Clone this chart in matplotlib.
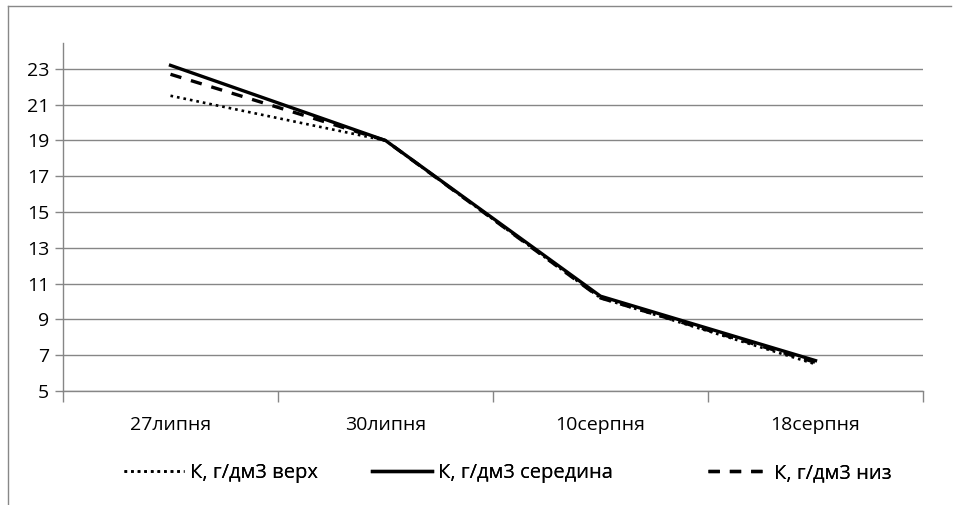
import matplotlib

matplotlib.use("Agg")
import matplotlib.pyplot as plt
from matplotlib.lines import Line2D

dates = ["27липня", "30липня", "10серпня", "18серпня"]
k_top = [21.5, 19.0, 10.2, 6.5]
k_middle = [23.2, 19.0, 10.3, 6.7]
k_bottom = [22.7, 19.0, 10.2, 6.6]
y_ticks = [5, 7, 9, 11, 13, 15, 17, 19, 21, 23]

plt.rcParams["font.family"] = ["Open Sans", "DejaVu Sans"]
TICK_FS = 14
LEGEND_FS = 14.5

fig = plt.figure(figsize=(9.56, 5.05), dpi=100)
ax = fig.add_axes([0.0659, 0.2257, 0.8996, 0.6892])

grid_color = "#868686"
x = range(len(dates))
styles = [
    (k_top, "К, г/дм3 верх", dict(lw=1.9, linestyle=(0, (1, 1.5)))),
    (k_middle, "К, г/дм3 середина", dict(lw=2.4, linestyle="-")),
    (k_bottom, "К, г/дм3 низ", dict(lw=2.4, linestyle=(0, (3.4, 3.0)))),
]
handles = []
for values, label, kw in styles:
    (line,) = ax.plot(x, values, color="black", label=label, **kw)
    handles.append(line)

ax.set_xlim(-0.5, len(dates) - 0.5)
ax.set_ylim(5, 24.45)
ax.set_yticks(y_ticks)
ax.set_xticks(list(x))
ax.set_xticklabels(dates)
ax.set_xticks([i - 0.5 for i in range(len(dates) + 1)], minor=True)
ax.tick_params(axis="x", which="major", length=0, pad=18, labelsize=TICK_FS)
ax.tick_params(axis="x", which="minor", length=8, width=1, color=grid_color)
ax.tick_params(axis="y", length=6, width=1, color=grid_color, labelsize=TICK_FS, pad=4)
ax.yaxis.grid(True, color=grid_color, lw=1)
ax.set_axisbelow(True)
for side in ("top", "right"):
    ax.spines[side].set_visible(False)
for side in ("left", "bottom"):
    ax.spines[side].set_color(grid_color)
    ax.spines[side].set_linewidth(1)

# one legend per series so each entry sits in its own slot
for handle, x0 in zip(handles, [124, 372, 708]):
    leg = fig.legend(
        handles=[handle],
        loc="center left",
        bbox_to_anchor=(x0 / 956, 0.063),
        frameon=False,
        fontsize=LEGEND_FS,
        handlelength=3.0,
        handletextpad=0.3,
        borderpad=0,
        borderaxespad=0,
    )
    fig.add_artist(leg)

# chart frame (left and top edges)
frame_x = 7.5 / 956
frame_y = 1 - 5.5 / 505
fig.add_artist(Line2D([frame_x, frame_x], [0, frame_y], transform=fig.transFigure, color="#888888", lw=1))
fig.add_artist(Line2D([frame_x, 0.995], [frame_y, frame_y], transform=fig.transFigure, color="#888888", lw=1))

fig.savefig("out.png", dpi=100)
